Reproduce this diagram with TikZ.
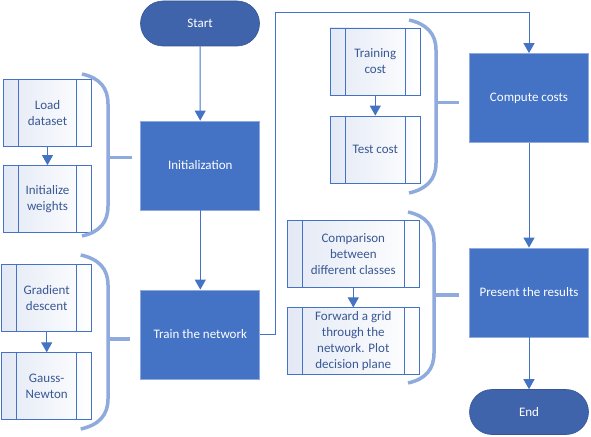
\documentclass[tikz,border=0pt]{standalone}
\usepackage{fontspec}
\setmainfont{Carlito}
\usetikzlibrary{arrows.meta}
\definecolor{mainblue}{HTML}{4472C4}
\definecolor{termblue}{HTML}{3F64AC}
\definecolor{lightborder}{HTML}{8FAADC}
\definecolor{bracecol}{HTML}{8FAADC}
\definecolor{subtext}{HTML}{3A5894}
\definecolor{subfill}{HTML}{E3E9F5}
\begin{document}
\begin{tikzpicture}[x=1pt,y=-1pt,
  txt/.style={font=\fontsize{13}{16}\selectfont},
  mainbox/.style={txt, rectangle, fill=mainblue, draw=lightborder, line width=0.8pt,
    minimum width=119pt, minimum height=89pt, text=white, inner sep=0pt},
  term/.style={txt, rectangle, rounded corners=22.5pt, fill=termblue, draw=termblue!85!black,
    line width=0.6pt, minimum width=119pt, minimum height=45pt, text=white, inner sep=0pt},
  subbox/.style={txt, rectangle, draw=mainblue, line width=0.8pt, left color=subfill, right color=white,
    minimum height=67pt, text=subtext, align=center, inner sep=0pt,
    path picture={
      \draw[mainblue, line width=0.8pt]
        ([xshift=15pt]path picture bounding box.north west) -- ([xshift=15pt]path picture bounding box.south west)
        ([xshift=-15pt]path picture bounding box.north east) -- ([xshift=-15pt]path picture bounding box.south east);
    }},
  conn/.style={draw=mainblue, line width=1pt, -{Triangle[width=11pt,length=10pt]}},
  bracel/.style={draw=bracecol, line width=3.5pt},
]
\useasboundingbox[fill=white] (0,0) rectangle (591,436);

% main flow
\node[term] (start) at (200,23.5) {Start};
\node[mainbox] (init) at (200.3,165.5) {Initialization};
\node[mainbox] (train) at (200.3,334.5) {Train the network};
\node[mainbox] (compute) at (529,98) {Compute costs};
\node[mainbox] (present) at (529,292.5) {Present the results};
\node[term] (endn) at (529,412) {End};

\draw[conn] (start) -- (init);
\draw[conn] (init) -- (train);
\coordinate (turn1) at (275,13);
\draw[conn] (train.east) -| (turn1) -| (compute.north);
\draw[conn] (compute) -- (present);
\draw[conn] (present) -- (endn);

% sub boxes
\node[subbox, minimum width=88.4pt] (load) at (47.5,112.7) {Load\\dataset};
\node[subbox, minimum width=88.4pt] (initw) at (47.5,199) {Initialize\\weights};
\node[subbox, minimum width=90pt] (grad) at (46.7,298) {Gradient\\descent};
\node[subbox, minimum width=90pt] (gauss) at (46.7,386.2) {Gauss-\\Newton};
\node[subbox, minimum width=90.7pt] (trainc) at (375.3,61.5) {Training\\cost};
\node[subbox, minimum width=90.7pt] (testc) at (375.3,149.5) {Test cost};
\node[subbox, minimum width=132pt] (comp) at (353.3,253.7) {Comparison\\between\\different classes};
\node[subbox, minimum width=132pt] (fwd) at (353.3,341.3) {Forward a grid\\through the\\network. Plot\\decision plane};

\draw[conn] (load) -- (initw);
\draw[conn] (grad) -- (gauss);
\draw[conn] (trainc) -- (testc);
\draw[conn] (comp) -- (fwd);

% braces
\draw[bracel] (82,74) .. controls (100,78) and (108,88) .. (108,104) -- (108,206)
  .. controls (108,222) and (100,232) .. (82,236);
\coordinate (s1a) at (108,157.7); \coordinate (s1b) at (131.7,157.7);
\draw[bracel] (s1a) -- (s1b);

\draw[bracel] (80.7,255) .. controls (99,259) and (108,269) .. (108,285) -- (108,399)
  .. controls (108,415) and (99,425) .. (80.7,429);
\coordinate (s2a) at (108,339); \coordinate (s2b) at (130,339);
\draw[bracel] (s2a) -- (s2b);

\draw[bracel] (409,20) .. controls (427,24) and (436,34) .. (436,50) -- (436,163)
  .. controls (436,179) and (427,189) .. (409,193);
\coordinate (s3a) at (436,102.7); \coordinate (s3b) at (459,102.7);
\draw[bracel] (s3a) -- (s3b);

\draw[bracel] (408,212) .. controls (426,216) and (434,226) .. (434,242) -- (434,353)
  .. controls (434,369) and (426,379) .. (408,383);
\coordinate (s4a) at (434,295); \coordinate (s4b) at (459,295);
\draw[bracel] (s4a) -- (s4b);
\end{tikzpicture}
\end{document}
